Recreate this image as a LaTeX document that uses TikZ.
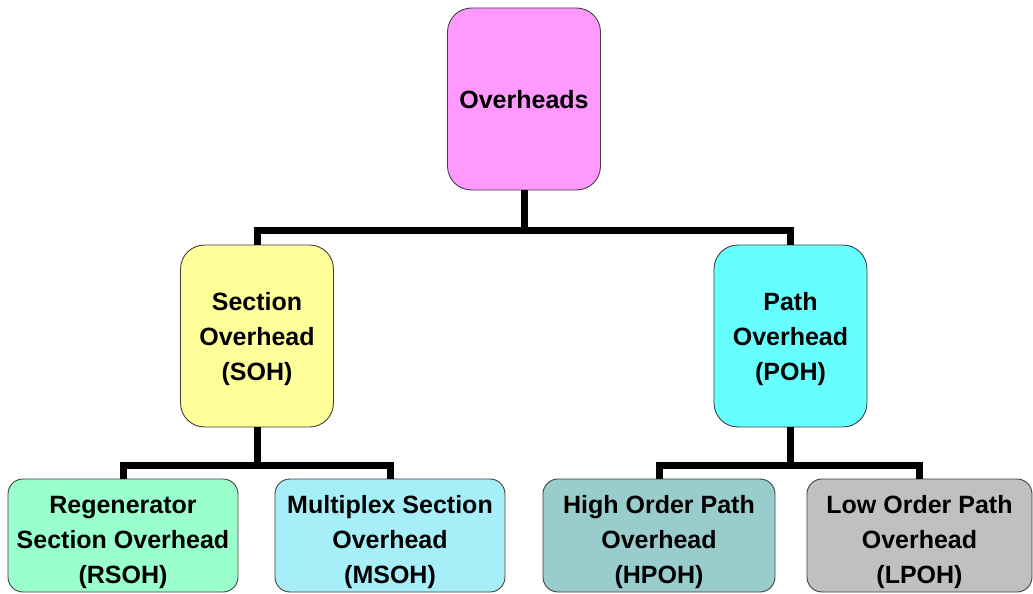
\documentclass[tikz,border=0pt]{standalone}
\usepackage{fontspec}
\setmainfont{Liberation Sans}
\definecolor{pinkbox}{HTML}{FF99FF}
\definecolor{yellowbox}{HTML}{FFFF99}
\definecolor{cyanbox}{HTML}{66FFFF}
\definecolor{greenbox}{HTML}{99FFCC}
\definecolor{lightcyanbox}{HTML}{A6EEF8}
\definecolor{tealbox}{HTML}{99CCCC}
\definecolor{greybox}{HTML}{C0C0C0}
\definecolor{edge}{HTML}{404040}
\tikzset{
  box/.style={draw=edge, line width=0.9pt, rounded corners=#1, inner sep=0pt},
  bigbox/.style={box=24pt, minimum width=153pt, minimum height=182pt},
  smallbox/.style={box=15pt, minimum height=113pt},
  txt/.style={inner sep=0pt, align=center, font=\fontsize{25}{35}\selectfont\bfseries},
  conn/.style={line width=7pt, black, line join=miter}
}
\begin{document}
\begin{tikzpicture}[x=1pt, y=-1pt]
\useasboundingbox (0,0) rectangle (1033,594);
% boxes of the overhead tree
\node[bigbox, fill=pinkbox] (top) at (524,99) {};
\node[bigbox, fill=yellowbox] (soh) at (257,336) {};
\node[bigbox, fill=cyanbox] (poh) at (790.5,336) {};
\node[smallbox, minimum width=230pt, fill=greenbox] (rsoh) at (123,535.5) {};
\node[smallbox, minimum width=230pt, fill=lightcyanbox] (msoh) at (390,535.5) {};
\node[smallbox, minimum width=232pt, fill=tealbox] (hpoh) at (659,535.5) {};
\node[smallbox, minimum width=225pt, fill=greybox] (lpoh) at (919.5,535.5) {};
% box texts
\node[txt] (top-t) at ([yshift=-1pt]top.center) {Overheads};
\node[txt] (soh-t) at ([yshift=-3pt]soh.center) {Section\\Overhead\\(SOH)};
\node[txt] (poh-t) at ([yshift=-3pt]poh.center) {Path\\Overhead\\(POH)};
\node[txt] (rsoh-t) at ([yshift=-7pt]rsoh.center) {Regenerator\\Section Overhead\\(RSOH)};
\node[txt] (msoh-t) at ([yshift=-7pt]msoh.center) {Multiplex Section\\Overhead\\(MSOH)};
\node[txt] (hpoh-t) at ([yshift=-7pt]hpoh.center) {High Order Path\\Overhead\\(HPOH)};
\node[txt] (lpoh-t) at ([yshift=-7pt]lpoh.center) {Low Order Path\\Overhead\\(LPOH)};
% junction points of the bars
\coordinate (bar1) at (524,230);
\coordinate (bar2) at (257,465);
\coordinate (bar3) at (790.5,465);
% connectors
\draw[conn] (top.south) -- (bar1);
\draw[conn] (soh.north) |- (bar1) -| (poh.north);
\draw[conn] (soh.south) -- (bar2);
\draw[conn] (rsoh.north) |- (bar2) -| (msoh.north);
\draw[conn] (poh.south) -- (bar3);
\draw[conn] (hpoh.north) |- (bar3) -| (lpoh.north);
\end{tikzpicture}
\end{document}
